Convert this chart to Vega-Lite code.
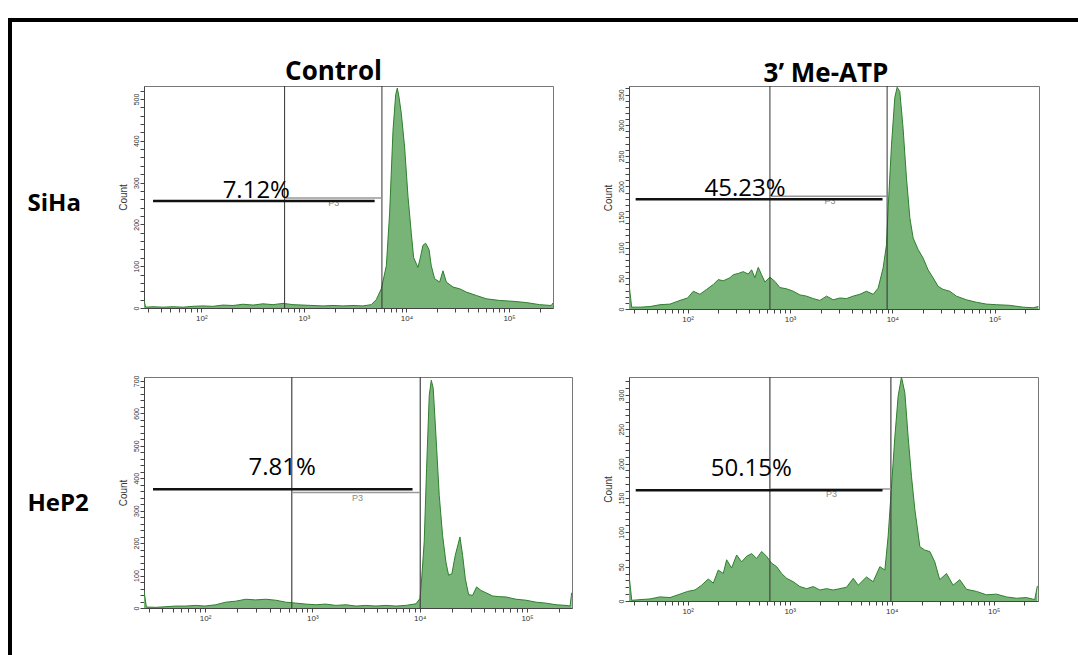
{
"$schema": "https://vega.github.io/schema/vega-lite/v6.json",
"background": "white",
"padding": {"left": 8, "top": 14, "right": 0, "bottom": 0},
"autosize": {"type": "pad"},
"config": {"font": "Open Sans", "axis": {"labelFont": "Liberation Sans", "titleFont": "Liberation Sans", "domainColor": "#444", "tickColor": "#444", "labelColor": "#333", "titleColor": "#333", "titleFontWeight": "normal", "grid": false, "labelOverlap": false, "labelFlush": false, "domainWidth": 1, "tickWidth": 1, "tickSize": 4}},
"datasets": {
"hist": [
{"p":"TL","lx":1.441,"n":18},{"p":"TL","lx":1.457,"n":2},{"p":"TL","lx":1.529,"n":3},{"p":"TL","lx":1.626,"n":2},{"p":"TL","lx":1.724,"n":3},{"p":"TL","lx":1.821,"n":2},{"p":"TL","lx":1.919,"n":4},{"p":"TL","lx":2.016,"n":5},{"p":"TL","lx":2.114,"n":4},{"p":"TL","lx":2.211,"n":7},{"p":"TL","lx":2.309,"n":6},{"p":"TL","lx":2.406,"n":9},{"p":"TL","lx":2.504,"n":7},{"p":"TL","lx":2.601,"n":10},{"p":"TL","lx":2.699,"n":8},{"p":"TL","lx":2.796,"n":11},{"p":"TL","lx":2.894,"n":8},{"p":"TL","lx":2.991,"n":7},{"p":"TL","lx":3.089,"n":6},{"p":"TL","lx":3.186,"n":5},{"p":"TL","lx":3.284,"n":6},{"p":"TL","lx":3.381,"n":5},{"p":"TL","lx":3.479,"n":6},{"p":"TL","lx":3.576,"n":5},{"p":"TL","lx":3.657,"n":8},{"p":"TL","lx":3.706,"n":20},{"p":"TL","lx":3.755,"n":46},{"p":"TL","lx":3.804,"n":101},{"p":"TL","lx":3.836,"n":227},{"p":"TL","lx":3.869,"n":425},{"p":"TL","lx":3.895,"n":510},{"p":"TL","lx":3.911,"n":526},{"p":"TL","lx":3.927,"n":505},{"p":"TL","lx":3.950,"n":465},{"p":"TL","lx":3.982,"n":385},{"p":"TL","lx":4.015,"n":267},{"p":"TL","lx":4.047,"n":180},{"p":"TL","lx":4.070,"n":121},{"p":"TL","lx":4.112,"n":97},{"p":"TL","lx":4.135,"n":120},{"p":"TL","lx":4.161,"n":150},{"p":"TL","lx":4.187,"n":155},{"p":"TL","lx":4.220,"n":140},{"p":"TL","lx":4.242,"n":101},{"p":"TL","lx":4.275,"n":70},{"p":"TL","lx":4.324,"n":62},{"p":"TL","lx":4.356,"n":89},{"p":"TL","lx":4.389,"n":62},{"p":"TL","lx":4.454,"n":50},{"p":"TL","lx":4.519,"n":46},{"p":"TL","lx":4.584,"n":38},{"p":"TL","lx":4.681,"n":30},{"p":"TL","lx":4.779,"n":22},{"p":"TL","lx":4.909,"n":18},{"p":"TL","lx":5.039,"n":16},{"p":"TL","lx":5.169,"n":13},{"p":"TL","lx":5.299,"n":8},{"p":"TL","lx":5.412,"n":6},{"p":"TL","lx":5.429,"n":12},
{"p":"TR","lx":1.427,"n":41},{"p":"TR","lx":1.453,"n":3},{"p":"TR","lx":1.535,"n":3},{"p":"TR","lx":1.632,"n":4},{"p":"TR","lx":1.730,"n":7},{"p":"TR","lx":1.828,"n":8},{"p":"TR","lx":1.925,"n":14},{"p":"TR","lx":2.000,"n":18},{"p":"TR","lx":2.055,"n":29},{"p":"TR","lx":2.120,"n":24},{"p":"TR","lx":2.185,"n":32},{"p":"TR","lx":2.251,"n":40},{"p":"TR","lx":2.299,"n":48},{"p":"TR","lx":2.348,"n":46},{"p":"TR","lx":2.413,"n":51},{"p":"TR","lx":2.446,"n":56},{"p":"TR","lx":2.495,"n":58},{"p":"TR","lx":2.543,"n":61},{"p":"TR","lx":2.592,"n":57},{"p":"TR","lx":2.625,"n":64},{"p":"TR","lx":2.657,"n":51},{"p":"TR","lx":2.690,"n":68},{"p":"TR","lx":2.722,"n":56},{"p":"TR","lx":2.755,"n":44},{"p":"TR","lx":2.804,"n":52},{"p":"TR","lx":2.853,"n":45},{"p":"TR","lx":2.901,"n":35},{"p":"TR","lx":2.966,"n":33},{"p":"TR","lx":3.032,"n":29},{"p":"TR","lx":3.097,"n":23},{"p":"TR","lx":3.162,"n":21},{"p":"TR","lx":3.227,"n":17},{"p":"TR","lx":3.292,"n":14},{"p":"TR","lx":3.357,"n":21},{"p":"TR","lx":3.422,"n":15},{"p":"TR","lx":3.487,"n":18},{"p":"TR","lx":3.552,"n":17},{"p":"TR","lx":3.617,"n":21},{"p":"TR","lx":3.682,"n":24},{"p":"TR","lx":3.747,"n":29},{"p":"TR","lx":3.813,"n":24},{"p":"TR","lx":3.861,"n":34},{"p":"TR","lx":3.910,"n":67},{"p":"TR","lx":3.943,"n":105},{"p":"TR","lx":3.959,"n":165},{"p":"TR","lx":3.992,"n":268},{"p":"TR","lx":4.024,"n":345},{"p":"TR","lx":4.047,"n":362},{"p":"TR","lx":4.073,"n":355},{"p":"TR","lx":4.105,"n":295},{"p":"TR","lx":4.138,"n":214},{"p":"TR","lx":4.171,"n":149},{"p":"TR","lx":4.203,"n":116},{"p":"TR","lx":4.252,"n":97},{"p":"TR","lx":4.301,"n":83},{"p":"TR","lx":4.349,"n":64},{"p":"TR","lx":4.398,"n":51},{"p":"TR","lx":4.447,"n":37},{"p":"TR","lx":4.496,"n":32},{"p":"TR","lx":4.561,"n":29},{"p":"TR","lx":4.626,"n":21},{"p":"TR","lx":4.724,"n":15},{"p":"TR","lx":4.821,"n":11},{"p":"TR","lx":4.919,"n":8},{"p":"TR","lx":5.017,"n":7},{"p":"TR","lx":5.147,"n":6},{"p":"TR","lx":5.277,"n":3},{"p":"TR","lx":5.375,"n":2},{"p":"TR","lx":5.427,"n":4},
{"p":"BL","lx":1.431,"n":54},{"p":"BL","lx":1.453,"n":3},{"p":"BL","lx":1.540,"n":2},{"p":"BL","lx":1.633,"n":4},{"p":"BL","lx":1.726,"n":6},{"p":"BL","lx":1.820,"n":6},{"p":"BL","lx":1.913,"n":8},{"p":"BL","lx":2.000,"n":6},{"p":"BL","lx":2.099,"n":10},{"p":"BL","lx":2.193,"n":18},{"p":"BL","lx":2.286,"n":21},{"p":"BL","lx":2.379,"n":27},{"p":"BL","lx":2.472,"n":25},{"p":"BL","lx":2.566,"n":27},{"p":"BL","lx":2.659,"n":24},{"p":"BL","lx":2.752,"n":18},{"p":"BL","lx":2.846,"n":15},{"p":"BL","lx":2.939,"n":12},{"p":"BL","lx":3.032,"n":10},{"p":"BL","lx":3.125,"n":12},{"p":"BL","lx":3.219,"n":8},{"p":"BL","lx":3.312,"n":10},{"p":"BL","lx":3.405,"n":6},{"p":"BL","lx":3.498,"n":8},{"p":"BL","lx":3.592,"n":6},{"p":"BL","lx":3.685,"n":8},{"p":"BL","lx":3.778,"n":6},{"p":"BL","lx":3.871,"n":8},{"p":"BL","lx":3.965,"n":13},{"p":"BL","lx":4.002,"n":29},{"p":"BL","lx":4.014,"n":70},{"p":"BL","lx":4.042,"n":204},{"p":"BL","lx":4.064,"n":430},{"p":"BL","lx":4.089,"n":656},{"p":"BL","lx":4.108,"n":702},{"p":"BL","lx":4.126,"n":677},{"p":"BL","lx":4.151,"n":533},{"p":"BL","lx":4.182,"n":347},{"p":"BL","lx":4.213,"n":224},{"p":"BL","lx":4.244,"n":142},{"p":"BL","lx":4.269,"n":101},{"p":"BL","lx":4.300,"n":106},{"p":"BL","lx":4.331,"n":162},{"p":"BL","lx":4.375,"n":219},{"p":"BL","lx":4.400,"n":162},{"p":"BL","lx":4.425,"n":90},{"p":"BL","lx":4.456,"n":41},{"p":"BL","lx":4.493,"n":39},{"p":"BL","lx":4.530,"n":65},{"p":"BL","lx":4.571,"n":54},{"p":"BL","lx":4.617,"n":47},{"p":"BL","lx":4.680,"n":37},{"p":"BL","lx":4.742,"n":35},{"p":"BL","lx":4.804,"n":34},{"p":"BL","lx":4.897,"n":27},{"p":"BL","lx":4.990,"n":24},{"p":"BL","lx":5.084,"n":18},{"p":"BL","lx":5.177,"n":15},{"p":"BL","lx":5.270,"n":10},{"p":"BL","lx":5.363,"n":8},{"p":"BL","lx":5.401,"n":6},{"p":"BL","lx":5.416,"n":47},
{"p":"BR","lx":1.425,"n":38},{"p":"BR","lx":1.452,"n":1},{"p":"BR","lx":1.533,"n":2},{"p":"BR","lx":1.631,"n":3},{"p":"BR","lx":1.729,"n":6},{"p":"BR","lx":1.827,"n":5},{"p":"BR","lx":1.925,"n":10},{"p":"BR","lx":2.000,"n":14},{"p":"BR","lx":2.072,"n":16},{"p":"BR","lx":2.137,"n":23},{"p":"BR","lx":2.202,"n":32},{"p":"BR","lx":2.251,"n":26},{"p":"BR","lx":2.300,"n":45},{"p":"BR","lx":2.349,"n":40},{"p":"BR","lx":2.382,"n":60},{"p":"BR","lx":2.431,"n":48},{"p":"BR","lx":2.480,"n":67},{"p":"BR","lx":2.529,"n":57},{"p":"BR","lx":2.578,"n":65},{"p":"BR","lx":2.627,"n":69},{"p":"BR","lx":2.676,"n":62},{"p":"BR","lx":2.725,"n":72},{"p":"BR","lx":2.774,"n":65},{"p":"BR","lx":2.823,"n":55},{"p":"BR","lx":2.872,"n":50},{"p":"BR","lx":2.921,"n":40},{"p":"BR","lx":2.970,"n":33},{"p":"BR","lx":3.035,"n":28},{"p":"BR","lx":3.100,"n":21},{"p":"BR","lx":3.166,"n":18},{"p":"BR","lx":3.231,"n":21},{"p":"BR","lx":3.296,"n":16},{"p":"BR","lx":3.361,"n":18},{"p":"BR","lx":3.427,"n":16},{"p":"BR","lx":3.492,"n":18},{"p":"BR","lx":3.557,"n":20},{"p":"BR","lx":3.623,"n":33},{"p":"BR","lx":3.672,"n":23},{"p":"BR","lx":3.753,"n":35},{"p":"BR","lx":3.818,"n":28},{"p":"BR","lx":3.884,"n":50},{"p":"BR","lx":3.933,"n":45},{"p":"BR","lx":3.965,"n":94},{"p":"BR","lx":3.998,"n":166},{"p":"BR","lx":4.031,"n":239},{"p":"BR","lx":4.063,"n":298},{"p":"BR","lx":4.096,"n":326},{"p":"BR","lx":4.129,"n":303},{"p":"BR","lx":4.161,"n":239},{"p":"BR","lx":4.194,"n":181},{"p":"BR","lx":4.227,"n":133},{"p":"BR","lx":4.276,"n":79},{"p":"BR","lx":4.325,"n":74},{"p":"BR","lx":4.374,"n":72},{"p":"BR","lx":4.422,"n":57},{"p":"BR","lx":4.471,"n":31},{"p":"BR","lx":4.537,"n":40},{"p":"BR","lx":4.602,"n":23},{"p":"BR","lx":4.667,"n":31},{"p":"BR","lx":4.733,"n":17},{"p":"BR","lx":4.831,"n":14},{"p":"BR","lx":4.929,"n":9},{"p":"BR","lx":5.026,"n":10},{"p":"BR","lx":5.124,"n":6},{"p":"BR","lx":5.222,"n":4},{"p":"BR","lx":5.320,"n":5},{"p":"BR","lx":5.402,"n":2},{"p":"BR","lx":5.428,"n":22}
],
"gate": [
{"p":"TL","lx":2.812},{"p":"TL","lx":3.761},{"p":"TR","lx":2.804},{"p":"TR","lx":3.949},{"p":"BL","lx":2.808},{"p":"BL","lx":4.005},{"p":"BR","lx":2.806},{"p":"BR","lx":3.992}
],
"bar": [
{"p":"TL","k":"p3","lx":2.812,"lx2":3.761,"n":263},{"p":"TL","k":"mark","lx":1.529,"lx2":3.690,"n":256},
{"p":"TR","k":"p3","lx":2.804,"lx2":3.949,"n":184},{"p":"TR","k":"mark","lx":1.492,"lx2":3.904,"n":179},
{"p":"BL","k":"p3","lx":2.808,"lx2":4.005,"n":356},{"p":"BL","k":"mark","lx":1.515,"lx2":3.933,"n":366},
{"p":"BR","k":"p3","lx":2.806,"lx2":3.992,"n":163},{"p":"BR","k":"mark","lx":1.491,"lx2":3.910,"n":161}
],
"txt": [
{"p":"TL","k":"pct","lx":2.536,"n":263,"t":"7.12%"},{"p":"TL","k":"p3","lx":3.29,"n":263,"t":"P3"},
{"p":"TR","k":"pct","lx":2.560,"n":184,"t":"45.23%"},{"p":"TR","k":"p3","lx":3.39,"n":184,"t":"P3"},
{"p":"BL","k":"pct","lx":2.718,"n":411,"t":"7.81%"},{"p":"BL","k":"p3","lx":3.42,"n":356,"t":"P3"},
{"p":"BR","k":"pct","lx":2.624,"n":182,"t":"50.15%"},{"p":"BR","k":"p3","lx":3.41,"n":163,"t":"P3"}
]
},
"spacing": 0,
"hconcat": [
{"width": 4, "height": 641, "view": {"fill": "black", "stroke": null}, "data": {"values": [{"t": ""}]}, "mark": "text", "encoding": {"text": {"field": "t"}}},
{"spacing": 33, "vconcat": [
{"width": 1066, "height": 4, "view": {"fill": "black", "stroke": null}, "data": {"values": [{"t": ""}]}, "mark": "text", "encoding": {"text": {"field": "t"}}},
{"columns": 3, "align": "each", "bounds": "flush", "spacing": {"row": 68, "column": 57}, "concat": [
{"width": 75, "height": 222, "view": {"stroke": null}, "data": {"values": [{"t": "SiHa"}]}, "mark": {"type": "text", "font": "Open Sans", "fontSize": 24, "fontWeight": "bold", "color": "black", "align": "left", "baseline": "middle", "dx": -22, "dy": 7}, "encoding": {"text": {"field": "t"}}},
{"width": 409, "height": 222, "view": {"stroke": "#777"},
 "title": {"text": "Control", "font": "Open Sans", "fontSize": 26, "fontWeight": "bold", "color": "black", "anchor": "middle", "frame": "group", "baseline": "alphabetic", "offset": -20, "dx": -15},
 "encoding": {"x": {"field": "lx", "type": "quantitative", "scale": {"domain": [1.441, 5.429], "nice": false, "zero": false}, "axis": {"title": null, "values": [1.477,1.602,1.699,1.778,1.845,1.903,1.954,2,2.301,2.477,2.602,2.699,2.778,2.845,2.903,2.954,3,3.301,3.477,3.602,3.699,3.778,3.845,3.903,3.954,4,4.301,4.477,4.602,4.699,4.778,4.845,4.903,4.954,5,5.301], "labelExpr": "datum.value == 2 ? '10²' : datum.value == 3 ? '10³' : datum.value == 4 ? '10⁴' : datum.value == 5 ? '10⁵' : ''", "labelFontSize": 8, "labelPadding": 2}}},
 "layer": [
  {"data": {"name": "hist"}, "transform": [{"filter": "datum.p == 'TL'"}], "mark": {"type": "area", "color": "#78b378", "opacity": 1, "clip": true, "line": {"color": "#2e7f2e", "strokeWidth": 1}},
   "encoding": {"y": {"field": "n", "type": "quantitative", "scale": {"domain": [0, 531], "nice": false}, "axis": {"title": "Count", "values": [0,20,40,60,80,100,120,140,160,180,200,220,240,260,280,300,320,340,360,380,400,420,440,460,480,500,520], "labelExpr": "datum.value % 100 == 0 ? datum.label : ''", "labelAngle": -90, "labelFontSize": 7, "labelPadding": 1, "titleFontSize": 10, "titlePadding": 4}}}},
  {"data": {"name": "gate"}, "transform": [{"filter": "datum.p == 'TL'"}], "mark": {"type": "rule", "color": "#333", "strokeWidth": 1}},
  {"data": {"name": "bar"}, "transform": [{"filter": "datum.p == 'TL' && datum.k == 'p3'"}], "mark": {"type": "rule", "color": "#999", "strokeWidth": 1.5},
   "encoding": {"x2": {"field": "lx2"}, "y": {"field": "n", "type": "quantitative", "scale": {"domain": [0, 531], "nice": false}, "axis": {"title": "Count", "values": [0,20,40,60,80,100,120,140,160,180,200,220,240,260,280,300,320,340,360,380,400,420,440,460,480,500,520], "labelExpr": "datum.value % 100 == 0 ? datum.label : ''", "labelAngle": -90, "labelFontSize": 7, "labelPadding": 1, "titleFontSize": 10, "titlePadding": 4}}}},
  {"data": {"name": "txt"}, "transform": [{"filter": "datum.p == 'TL' && datum.k == 'p3'"}], "mark": {"type": "text", "font": "Liberation Sans", "fontSize": 9, "color": "#888", "align": "center", "baseline": "top", "dy": 1},
   "encoding": {"y": {"field": "n", "type": "quantitative", "scale": {"domain": [0, 531], "nice": false}, "axis": {"title": "Count", "values": [0,20,40,60,80,100,120,140,160,180,200,220,240,260,280,300,320,340,360,380,400,420,440,460,480,500,520], "labelExpr": "datum.value % 100 == 0 ? datum.label : ''", "labelAngle": -90, "labelFontSize": 7, "labelPadding": 1, "titleFontSize": 10, "titlePadding": 4}}, "text": {"field": "t"}}},
  {"data": {"name": "bar"}, "transform": [{"filter": "datum.p == 'TL' && datum.k == 'mark'"}], "mark": {"type": "rule", "color": "#111", "strokeWidth": 2.5},
   "encoding": {"x2": {"field": "lx2"}, "y": {"field": "n", "type": "quantitative", "scale": {"domain": [0, 531], "nice": false}, "axis": {"title": "Count", "values": [0,20,40,60,80,100,120,140,160,180,200,220,240,260,280,300,320,340,360,380,400,420,440,460,480,500,520], "labelExpr": "datum.value % 100 == 0 ? datum.label : ''", "labelAngle": -90, "labelFontSize": 7, "labelPadding": 1, "titleFontSize": 10, "titlePadding": 4}}}},
  {"data": {"name": "txt"}, "transform": [{"filter": "datum.p == 'TL' && datum.k == 'pct'"}], "mark": {"type": "text", "font": "Open Sans", "fontSize": 24, "color": "black", "align": "center", "baseline": "alphabetic"},
   "encoding": {"y": {"field": "n", "type": "quantitative", "scale": {"domain": [0, 531], "nice": false}, "axis": {"title": "Count", "values": [0,20,40,60,80,100,120,140,160,180,200,220,240,260,280,300,320,340,360,380,400,420,440,460,480,500,520], "labelExpr": "datum.value % 100 == 0 ? datum.label : ''", "labelAngle": -90, "labelFontSize": 7, "labelPadding": 1, "titleFontSize": 10, "titlePadding": 4}}, "text": {"field": "t"}}}
 ]},
{"width": 410, "height": 223, "view": {"stroke": "#777"},
 "title": {"text": "3’ Me-ATP", "font": "Open Sans", "fontSize": 26, "fontWeight": "bold", "color": "black", "anchor": "middle", "frame": "group", "baseline": "alphabetic", "offset": -22, "dx": -8},
 "encoding": {"x": {"field": "lx", "type": "quantitative", "scale": {"domain": [1.427, 5.433], "nice": false, "zero": false}, "axis": {"title": null, "values": [1.477,1.602,1.699,1.778,1.845,1.903,1.954,2,2.301,2.477,2.602,2.699,2.778,2.845,2.903,2.954,3,3.301,3.477,3.602,3.699,3.778,3.845,3.903,3.954,4,4.301,4.477,4.602,4.699,4.778,4.845,4.903,4.954,5,5.301], "labelExpr": "datum.value == 2 ? '10²' : datum.value == 3 ? '10³' : datum.value == 4 ? '10⁴' : datum.value == 5 ? '10⁵' : ''", "labelFontSize": 8, "labelPadding": 2}}},
 "layer": [
  {"data": {"name": "hist"}, "transform": [{"filter": "datum.p == 'TR'"}], "mark": {"type": "area", "color": "#78b378", "opacity": 1, "clip": true, "line": {"color": "#2e7f2e", "strokeWidth": 1}},
   "encoding": {"y": {"field": "n", "type": "quantitative", "scale": {"domain": [0, 364], "nice": false}, "axis": {"title": "Count", "values": [0,10,20,30,40,50,60,70,80,90,100,110,120,130,140,150,160,170,180,190,200,210,220,230,240,250,260,270,280,290,300,310,320,330,340,350,360], "labelExpr": "datum.value % 50 == 0 ? datum.label : ''", "labelAngle": -90, "labelFontSize": 7, "labelPadding": 1, "titleFontSize": 10, "titlePadding": 4}}}},
  {"data": {"name": "gate"}, "transform": [{"filter": "datum.p == 'TR'"}], "mark": {"type": "rule", "color": "#333", "strokeWidth": 1}},
  {"data": {"name": "bar"}, "transform": [{"filter": "datum.p == 'TR' && datum.k == 'p3'"}], "mark": {"type": "rule", "color": "#999", "strokeWidth": 1.5},
   "encoding": {"x2": {"field": "lx2"}, "y": {"field": "n", "type": "quantitative", "scale": {"domain": [0, 364], "nice": false}, "axis": {"title": "Count", "values": [0,10,20,30,40,50,60,70,80,90,100,110,120,130,140,150,160,170,180,190,200,210,220,230,240,250,260,270,280,290,300,310,320,330,340,350,360], "labelExpr": "datum.value % 50 == 0 ? datum.label : ''", "labelAngle": -90, "labelFontSize": 7, "labelPadding": 1, "titleFontSize": 10, "titlePadding": 4}}}},
  {"data": {"name": "txt"}, "transform": [{"filter": "datum.p == 'TR' && datum.k == 'p3'"}], "mark": {"type": "text", "font": "Liberation Sans", "fontSize": 9, "color": "#888", "align": "center", "baseline": "top", "dy": 1},
   "encoding": {"y": {"field": "n", "type": "quantitative", "scale": {"domain": [0, 364], "nice": false}, "axis": {"title": "Count", "values": [0,10,20,30,40,50,60,70,80,90,100,110,120,130,140,150,160,170,180,190,200,210,220,230,240,250,260,270,280,290,300,310,320,330,340,350,360], "labelExpr": "datum.value % 50 == 0 ? datum.label : ''", "labelAngle": -90, "labelFontSize": 7, "labelPadding": 1, "titleFontSize": 10, "titlePadding": 4}}, "text": {"field": "t"}}},
  {"data": {"name": "bar"}, "transform": [{"filter": "datum.p == 'TR' && datum.k == 'mark'"}], "mark": {"type": "rule", "color": "#111", "strokeWidth": 2.5},
   "encoding": {"x2": {"field": "lx2"}, "y": {"field": "n", "type": "quantitative", "scale": {"domain": [0, 364], "nice": false}, "axis": {"title": "Count", "values": [0,10,20,30,40,50,60,70,80,90,100,110,120,130,140,150,160,170,180,190,200,210,220,230,240,250,260,270,280,290,300,310,320,330,340,350,360], "labelExpr": "datum.value % 50 == 0 ? datum.label : ''", "labelAngle": -90, "labelFontSize": 7, "labelPadding": 1, "titleFontSize": 10, "titlePadding": 4}}}},
  {"data": {"name": "txt"}, "transform": [{"filter": "datum.p == 'TR' && datum.k == 'pct'"}], "mark": {"type": "text", "font": "Open Sans", "fontSize": 24, "color": "black", "align": "center", "baseline": "alphabetic"},
   "encoding": {"y": {"field": "n", "type": "quantitative", "scale": {"domain": [0, 364], "nice": false}, "axis": {"title": "Count", "values": [0,10,20,30,40,50,60,70,80,90,100,110,120,130,140,150,160,170,180,190,200,210,220,230,240,250,260,270,280,290,300,310,320,330,340,350,360], "labelExpr": "datum.value % 50 == 0 ? datum.label : ''", "labelAngle": -90, "labelFontSize": 7, "labelPadding": 1, "titleFontSize": 10, "titlePadding": 4}}, "text": {"field": "t"}}}
 ]},
{"width": 75, "height": 231, "view": {"stroke": null}, "data": {"values": [{"t": "HeP2"}]}, "mark": {"type": "text", "font": "Open Sans", "fontSize": 24, "fontWeight": "bold", "color": "black", "align": "left", "baseline": "middle", "dx": -22, "dy": 11}, "encoding": {"text": {"field": "t"}}},
{"width": 428, "height": 231, "view": {"stroke": "#777"},
 "encoding": {"x": {"field": "lx", "type": "quantitative", "scale": {"domain": [1.431, 5.419], "nice": false, "zero": false}, "axis": {"title": null, "values": [1.477,1.602,1.699,1.778,1.845,1.903,1.954,2,2.301,2.477,2.602,2.699,2.778,2.845,2.903,2.954,3,3.301,3.477,3.602,3.699,3.778,3.845,3.903,3.954,4,4.301,4.477,4.602,4.699,4.778,4.845,4.903,4.954,5,5.301], "labelExpr": "datum.value == 2 ? '10²' : datum.value == 3 ? '10³' : datum.value == 4 ? '10⁴' : datum.value == 5 ? '10⁵' : ''", "labelFontSize": 8, "labelPadding": 2}}},
 "layer": [
  {"data": {"name": "hist"}, "transform": [{"filter": "datum.p == 'BL'"}], "mark": {"type": "area", "color": "#78b378", "opacity": 1, "clip": true, "line": {"color": "#2e7f2e", "strokeWidth": 1}},
   "encoding": {"y": {"field": "n", "type": "quantitative", "scale": {"domain": [0, 712], "nice": false}, "axis": {"title": "Count", "values": [0,20,40,60,80,100,120,140,160,180,200,220,240,260,280,300,320,340,360,380,400,420,440,460,480,500,520,540,560,580,600,620,640,660,680,700], "labelExpr": "datum.value % 100 == 0 ? datum.label : ''", "labelAngle": -90, "labelFontSize": 7, "labelPadding": 1, "titleFontSize": 10, "titlePadding": 4}}}},
  {"data": {"name": "gate"}, "transform": [{"filter": "datum.p == 'BL'"}], "mark": {"type": "rule", "color": "#444", "strokeWidth": 1.2}},
  {"data": {"name": "bar"}, "transform": [{"filter": "datum.p == 'BL' && datum.k == 'p3'"}], "mark": {"type": "rule", "color": "#999", "strokeWidth": 1.5},
   "encoding": {"x2": {"field": "lx2"}, "y": {"field": "n", "type": "quantitative", "scale": {"domain": [0, 712], "nice": false}, "axis": {"title": "Count", "values": [0,20,40,60,80,100,120,140,160,180,200,220,240,260,280,300,320,340,360,380,400,420,440,460,480,500,520,540,560,580,600,620,640,660,680,700], "labelExpr": "datum.value % 100 == 0 ? datum.label : ''", "labelAngle": -90, "labelFontSize": 7, "labelPadding": 1, "titleFontSize": 10, "titlePadding": 4}}}},
  {"data": {"name": "txt"}, "transform": [{"filter": "datum.p == 'BL' && datum.k == 'p3'"}], "mark": {"type": "text", "font": "Liberation Sans", "fontSize": 9, "color": "#888", "align": "center", "baseline": "top", "dy": 1},
   "encoding": {"y": {"field": "n", "type": "quantitative", "scale": {"domain": [0, 712], "nice": false}, "axis": {"title": "Count", "values": [0,20,40,60,80,100,120,140,160,180,200,220,240,260,280,300,320,340,360,380,400,420,440,460,480,500,520,540,560,580,600,620,640,660,680,700], "labelExpr": "datum.value % 100 == 0 ? datum.label : ''", "labelAngle": -90, "labelFontSize": 7, "labelPadding": 1, "titleFontSize": 10, "titlePadding": 4}}, "text": {"field": "t"}}},
  {"data": {"name": "bar"}, "transform": [{"filter": "datum.p == 'BL' && datum.k == 'mark'"}], "mark": {"type": "rule", "color": "#111", "strokeWidth": 2.5},
   "encoding": {"x2": {"field": "lx2"}, "y": {"field": "n", "type": "quantitative", "scale": {"domain": [0, 712], "nice": false}, "axis": {"title": "Count", "values": [0,20,40,60,80,100,120,140,160,180,200,220,240,260,280,300,320,340,360,380,400,420,440,460,480,500,520,540,560,580,600,620,640,660,680,700], "labelExpr": "datum.value % 100 == 0 ? datum.label : ''", "labelAngle": -90, "labelFontSize": 7, "labelPadding": 1, "titleFontSize": 10, "titlePadding": 4}}}},
  {"data": {"name": "txt"}, "transform": [{"filter": "datum.p == 'BL' && datum.k == 'pct'"}], "mark": {"type": "text", "font": "Open Sans", "fontSize": 24, "color": "black", "align": "center", "baseline": "alphabetic"},
   "encoding": {"y": {"field": "n", "type": "quantitative", "scale": {"domain": [0, 712], "nice": false}, "axis": {"title": "Count", "values": [0,20,40,60,80,100,120,140,160,180,200,220,240,260,280,300,320,340,360,380,400,420,440,460,480,500,520,540,560,580,600,620,640,660,680,700], "labelExpr": "datum.value % 100 == 0 ? datum.label : ''", "labelAngle": -90, "labelFontSize": 7, "labelPadding": 1, "titleFontSize": 10, "titlePadding": 4}}, "text": {"field": "t"}}}
 ]},
{"width": 409, "height": 224, "view": {"stroke": "#777"},
 "encoding": {"x": {"field": "lx", "type": "quantitative", "scale": {"domain": [1.425, 5.434], "nice": false, "zero": false}, "axis": {"title": null, "values": [1.477,1.602,1.699,1.778,1.845,1.903,1.954,2,2.301,2.477,2.602,2.699,2.778,2.845,2.903,2.954,3,3.301,3.477,3.602,3.699,3.778,3.845,3.903,3.954,4,4.301,4.477,4.602,4.699,4.778,4.845,4.903,4.954,5,5.301], "labelExpr": "datum.value == 2 ? '10²' : datum.value == 3 ? '10³' : datum.value == 4 ? '10⁴' : datum.value == 5 ? '10⁵' : ''", "labelFontSize": 8, "labelPadding": 2}}},
 "layer": [
  {"data": {"name": "hist"}, "transform": [{"filter": "datum.p == 'BR'"}], "mark": {"type": "area", "color": "#78b378", "opacity": 1, "clip": true, "line": {"color": "#2e7f2e", "strokeWidth": 1}},
   "encoding": {"y": {"field": "n", "type": "quantitative", "scale": {"domain": [0, 326], "nice": false}, "axis": {"title": "Count", "values": [0,10,20,30,40,50,60,70,80,90,100,110,120,130,140,150,160,170,180,190,200,210,220,230,240,250,260,270,280,290,300,310,320], "labelExpr": "datum.value % 50 == 0 ? datum.label : ''", "labelAngle": -90, "labelFontSize": 7, "labelPadding": 1, "titleFontSize": 10, "titlePadding": 4}}}},
  {"data": {"name": "gate"}, "transform": [{"filter": "datum.p == 'BR'"}], "mark": {"type": "rule", "color": "#444", "strokeWidth": 1.2}},
  {"data": {"name": "bar"}, "transform": [{"filter": "datum.p == 'BR' && datum.k == 'p3'"}], "mark": {"type": "rule", "color": "#999", "strokeWidth": 1.5},
   "encoding": {"x2": {"field": "lx2"}, "y": {"field": "n", "type": "quantitative", "scale": {"domain": [0, 326], "nice": false}, "axis": {"title": "Count", "values": [0,10,20,30,40,50,60,70,80,90,100,110,120,130,140,150,160,170,180,190,200,210,220,230,240,250,260,270,280,290,300,310,320], "labelExpr": "datum.value % 50 == 0 ? datum.label : ''", "labelAngle": -90, "labelFontSize": 7, "labelPadding": 1, "titleFontSize": 10, "titlePadding": 4}}}},
  {"data": {"name": "txt"}, "transform": [{"filter": "datum.p == 'BR' && datum.k == 'p3'"}], "mark": {"type": "text", "font": "Liberation Sans", "fontSize": 9, "color": "#888", "align": "center", "baseline": "top", "dy": 1},
   "encoding": {"y": {"field": "n", "type": "quantitative", "scale": {"domain": [0, 326], "nice": false}, "axis": {"title": "Count", "values": [0,10,20,30,40,50,60,70,80,90,100,110,120,130,140,150,160,170,180,190,200,210,220,230,240,250,260,270,280,290,300,310,320], "labelExpr": "datum.value % 50 == 0 ? datum.label : ''", "labelAngle": -90, "labelFontSize": 7, "labelPadding": 1, "titleFontSize": 10, "titlePadding": 4}}, "text": {"field": "t"}}},
  {"data": {"name": "bar"}, "transform": [{"filter": "datum.p == 'BR' && datum.k == 'mark'"}], "mark": {"type": "rule", "color": "#111", "strokeWidth": 2.5},
   "encoding": {"x2": {"field": "lx2"}, "y": {"field": "n", "type": "quantitative", "scale": {"domain": [0, 326], "nice": false}, "axis": {"title": "Count", "values": [0,10,20,30,40,50,60,70,80,90,100,110,120,130,140,150,160,170,180,190,200,210,220,230,240,250,260,270,280,290,300,310,320], "labelExpr": "datum.value % 50 == 0 ? datum.label : ''", "labelAngle": -90, "labelFontSize": 7, "labelPadding": 1, "titleFontSize": 10, "titlePadding": 4}}}},
  {"data": {"name": "txt"}, "transform": [{"filter": "datum.p == 'BR' && datum.k == 'pct'"}], "mark": {"type": "text", "font": "Open Sans", "fontSize": 24, "color": "black", "align": "center", "baseline": "alphabetic"},
   "encoding": {"y": {"field": "n", "type": "quantitative", "scale": {"domain": [0, 326], "nice": false}, "axis": {"title": "Count", "values": [0,10,20,30,40,50,60,70,80,90,100,110,120,130,140,150,160,170,180,190,200,210,220,230,240,250,260,270,280,290,300,310,320], "labelExpr": "datum.value % 50 == 0 ? datum.label : ''", "labelAngle": -90, "labelFontSize": 7, "labelPadding": 1, "titleFontSize": 10, "titlePadding": 4}}, "text": {"field": "t"}}}
 ]}
]}
]}
]
}
